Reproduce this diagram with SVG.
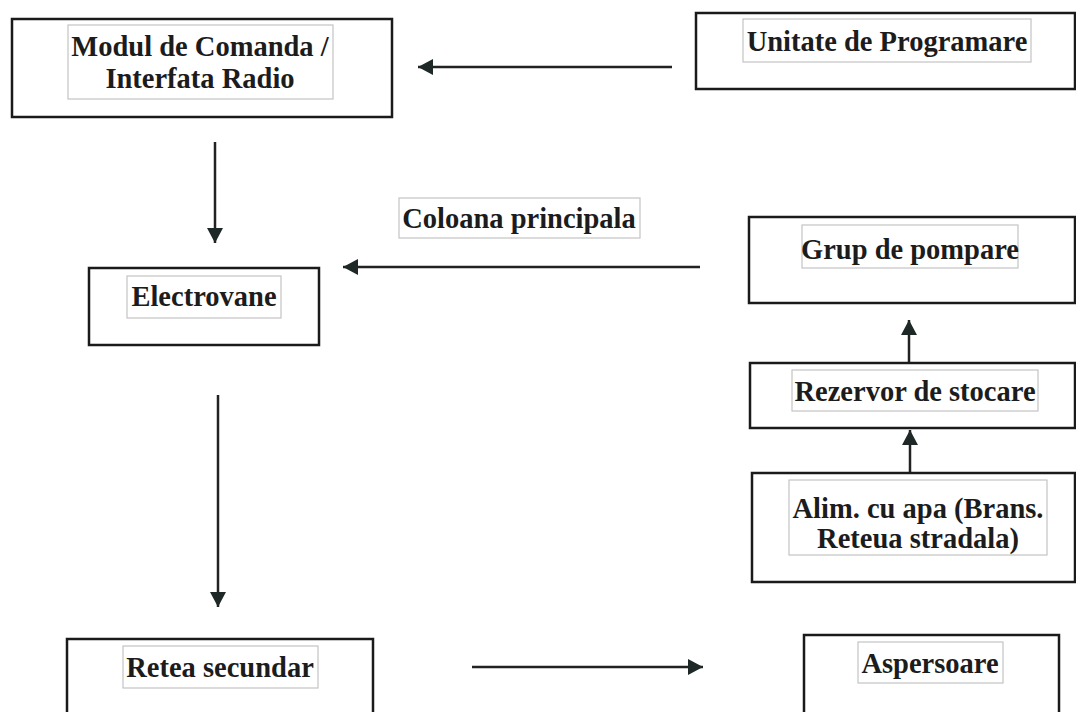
<svg xmlns="http://www.w3.org/2000/svg" width="1076" height="712" viewBox="0 0 1076 712">
<style>
.box{fill:none;stroke:#1a1a1a;stroke-width:2.5}
.lbl{fill:#fff;stroke:#c4c4c4;stroke-width:1.2}
.t{font-family:"Liberation Serif","Times New Roman",serif;font-weight:bold;font-size:28.5px;fill:#1c1c1c;text-anchor:middle}
.c{stroke:#222;stroke-width:2.5;fill:none;marker-end:url(#ah)}
</style>
<defs>
<marker id="ah" markerUnits="userSpaceOnUse" markerWidth="18" markerHeight="18" refX="15" refY="8" orient="auto">
<path d="M0,0 L15,8 L0,16 Z" fill="#1e2826"/>
</marker>
</defs>
<rect width="1076" height="712" fill="#fff"/>
<g id="connectors">
<line class="c" x1="672" y1="67" x2="418" y2="67"/>
<line class="c" x1="215" y1="142" x2="215" y2="243"/>
<line class="c" x1="700" y1="267" x2="343" y2="267"/>
<line class="c" x1="218" y1="395" x2="218" y2="607"/>
<line class="c" x1="909" y1="363" x2="909" y2="320"/>
<line class="c" x1="910" y1="473" x2="910" y2="430"/>
<line class="c" x1="472" y1="667" x2="703" y2="667"/>
</g>
<g id="modul">
<rect class="box" x="12" y="19" width="380" height="98"/>
<rect class="lbl" x="68" y="25" width="265" height="74"/>
<text class="t" x="200" y="56">Modul de Comanda /</text>
<text class="t" x="200" y="88">Interfata Radio</text>
</g>
<g id="unitate">
<rect class="box" x="696" y="13" width="379" height="76"/>
<rect class="lbl" x="743" y="19" width="288" height="43"/>
<text class="t" x="887" y="51">Unitate de Programare</text>
</g>
<g id="coloana">
<rect class="lbl" x="399" y="198" width="241" height="40"/>
<text class="t" x="519" y="228">Coloana principala</text>
</g>
<g id="electrovane">
<rect class="box" x="89" y="268" width="230" height="77"/>
<rect class="lbl" x="127" y="276" width="154" height="42"/>
<text class="t" x="204" y="306">Electrovane</text>
</g>
<g id="grup">
<rect class="box" x="749" y="217" width="326" height="86"/>
<rect class="lbl" x="802" y="225" width="216" height="43"/>
<text class="t" x="910" y="259">Grup de pompare</text>
</g>
<g id="rezervor">
<rect class="box" x="750" y="363" width="325" height="65"/>
<rect class="lbl" x="792" y="370" width="246" height="41"/>
<text class="t" x="915" y="401">Rezervor de stocare</text>
</g>
<g id="alim">
<rect class="box" x="752" y="473" width="323" height="109"/>
<rect class="lbl" x="789" y="480" width="258" height="75"/>
<text class="t" x="918" y="518">Alim. cu apa (Brans.</text>
<text class="t" x="918" y="548">Reteua stradala)</text>
</g>
<g id="retea">
<rect class="box" x="67" y="639" width="306" height="90"/>
<rect class="lbl" x="123" y="646" width="195" height="42"/>
<text class="t" x="220" y="677">Retea secundar</text>
</g>
<g id="aspersoare">
<rect class="box" x="804" y="635" width="255" height="90"/>
<rect class="lbl" x="858" y="642" width="145" height="41"/>
<text class="t" x="930" y="673">Aspersoare</text>
</g>
</svg>
